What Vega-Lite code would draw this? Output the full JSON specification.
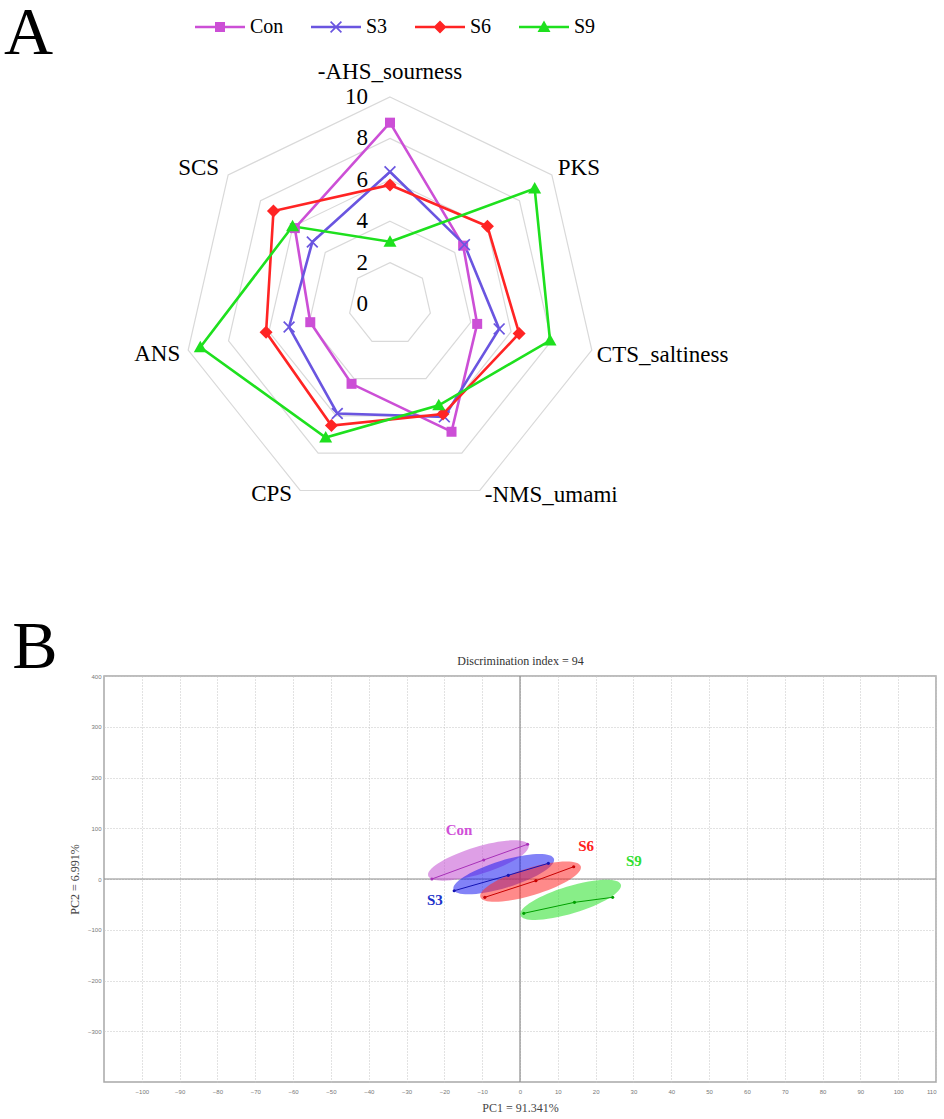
{
"$schema":"https://vega.github.io/schema/vega-lite/v6.json",
"padding":{"left":3,"top":0,"right":0,"bottom":0},
"background":"white",
"bounds":"flush",
"spacing":76,
"config":{"font":"Liberation Serif","view":{"stroke":null}},
"resolve":{"scale":{"color":"independent","shape":"independent","x":"independent","y":"independent","fill":"independent","stroke":"independent"}},
"datasets":{
"radar":[
{"sample":"Con","attr":"-AHS_sourness","idx":0,"value":8.76},
{"sample":"Con","attr":"PKS","idx":1,"value":4.52},
{"sample":"Con","attr":"CTS_saltiness","idx":2,"value":4.32},
{"sample":"Con","attr":"-NMS_umami","idx":3,"value":6.85},
{"sample":"Con","attr":"CPS","idx":4,"value":4.28},
{"sample":"Con","attr":"ANS","idx":5,"value":3.95},
{"sample":"Con","attr":"SCS","idx":6,"value":5.88},
{"sample":"S3","attr":"-AHS_sourness","idx":0,"value":6.39},
{"sample":"S3","attr":"PKS","idx":1,"value":4.60},
{"sample":"S3","attr":"CTS_saltiness","idx":2,"value":5.41},
{"sample":"S3","attr":"-NMS_umami","idx":3,"value":6.05},
{"sample":"S3","attr":"CPS","idx":4,"value":5.87},
{"sample":"S3","attr":"ANS","idx":5,"value":5.00},
{"sample":"S3","attr":"SCS","idx":6,"value":4.80},
{"sample":"S6","attr":"-AHS_sourness","idx":0,"value":5.75},
{"sample":"S6","attr":"PKS","idx":1,"value":6.02},
{"sample":"S6","attr":"CTS_saltiness","idx":2,"value":6.40},
{"sample":"S6","attr":"-NMS_umami","idx":3,"value":5.90},
{"sample":"S6","attr":"CPS","idx":4,"value":6.52},
{"sample":"S6","attr":"ANS","idx":5,"value":6.14},
{"sample":"S6","attr":"SCS","idx":6,"value":7.20},
{"sample":"S9","attr":"-AHS_sourness","idx":0,"value":3.01},
{"sample":"S9","attr":"PKS","idx":1,"value":8.94},
{"sample":"S9","attr":"CTS_saltiness","idx":2,"value":7.93},
{"sample":"S9","attr":"-NMS_umami","idx":3,"value":5.43},
{"sample":"S9","attr":"CPS","idx":4,"value":7.16},
{"sample":"S9","attr":"ANS","idx":5,"value":9.40},
{"sample":"S9","attr":"SCS","idx":6,"value":6.02}
],
"attributes":[
{"attr":"-AHS_sourness","idx":0},{"attr":"PKS","idx":1},{"attr":"CTS_saltiness","idx":2},{"attr":"-NMS_umami","idx":3},{"attr":"CPS","idx":4},{"attr":"ANS","idx":5},{"attr":"SCS","idx":6}
],
"rings":[
{"level":2,"idx":[0,1,2,3,4,5,6]},{"level":4,"idx":[0,1,2,3,4,5,6]},{"level":6,"idx":[0,1,2,3,4,5,6]},{"level":8,"idx":[0,1,2,3,4,5,6]},{"level":10,"idx":[0,1,2,3,4,5,6]}
],
"ticks":[{"level":0},{"level":2},{"level":4},{"level":6},{"level":8},{"level":10}],
"ellipses":[
{"group":"Con","pc1":-11.0,"pc2":36.5},
{"group":"S3","pc1":-4.3,"pc2":9.5},
{"group":"S6","pc1":2.8,"pc2":-5.3},
{"group":"S9","pc1":13.4,"pc2":-41.0}
],
"samples":[
{"group":"Con","ord":1,"pc1":-23.3,"pc2":0.0},
{"group":"Con","ord":2,"pc1":-9.6,"pc2":37.4},
{"group":"Con","ord":3,"pc1":2.0,"pc2":68.4},
{"group":"S3","ord":1,"pc1":-17.4,"pc2":-23.1},
{"group":"S3","ord":2,"pc1":-3.1,"pc2":7.3},
{"group":"S3","ord":3,"pc1":7.5,"pc2":30.9},
{"group":"S6","ord":1,"pc1":-9.3,"pc2":-36.1},
{"group":"S6","ord":2,"pc1":4.2,"pc2":-3.3},
{"group":"S6","ord":3,"pc1":14.2,"pc2":24.2},
{"group":"S9","ord":1,"pc1":1.0,"pc2":-67.6},
{"group":"S9","ord":2,"pc1":14.4,"pc2":-46.0},
{"group":"S9","ord":3,"pc1":24.5,"pc2":-36.1}
],
"grouplabels":[
{"group":"Con","pc1":-16.1,"pc2":96.6},
{"group":"S3","pc1":-22.5,"pc2":-41.4},
{"group":"S6","pc1":17.5,"pc2":65.0},
{"group":"S9","pc1":30.1,"pc2":35.5}
]
},
"vconcat":[
{
"width":832,"height":600,
"title":{"text":"A","orient":"left","anchor":"end","angle":0,"fontSize":68,"fontWeight":"normal","font":"Liberation Serif","color":"black","offset":51,"baseline":"top","align":"left"},
"resolve":{"scale":{"shape":"independent"},"legend":{"color":"independent","shape":"independent"}},
"layer":[
{"data":{"name":"rings"},
 "transform":[{"flatten":["idx"]},{"calculate":"datum.level*sin(datum.idx*2*PI/7)","as":"rx"},{"calculate":"datum.level*cos(datum.idx*2*PI/7)","as":"ry"}],
 "mark":{"type":"line","interpolate":"linear-closed","color":"#d9d9d9","strokeWidth":1.2},
 "encoding":{
  "x":{"field":"rx","type":"quantitative","scale":{"domain":[-13.816,26.377],"nice":false,"zero":false},"axis":null},
  "y":{"field":"ry","type":"quantitative","scale":{"domain":[-14.3,14.686],"nice":false,"zero":false},"axis":null},
  "detail":{"field":"level","type":"nominal"},
  "order":{"field":"idx","type":"quantitative"}}},
{"data":{"name":"ticks"},
 "mark":{"type":"text","align":"right","baseline":"middle","dx":-22,"fontSize":23,"color":"black"},
 "encoding":{
  "x":{"datum":0,"type":"quantitative","axis":null},
  "y":{"field":"level","type":"quantitative","axis":null},
  "text":{"field":"level","type":"quantitative"}}},
{"data":{"name":"attributes"},
 "transform":[{"filter":"datum.idx==0"},{"calculate":"10*sin(datum.idx*2*PI/7)","as":"rx"},{"calculate":"10*cos(datum.idx*2*PI/7)","as":"ry"}],
 "mark":{"type":"text","align":"center","baseline":"middle","dy":-25,"fontSize":23,"color":"black"},
 "encoding":{"x":{"field":"rx","type":"quantitative","axis":null},"y":{"field":"ry","type":"quantitative","axis":null},"text":{"field":"attr"}}},
{"data":{"name":"attributes"},
 "transform":[{"filter":"datum.idx==1"},{"calculate":"10*sin(datum.idx*2*PI/7)","as":"rx"},{"calculate":"10*cos(datum.idx*2*PI/7)","as":"ry"}],
 "mark":{"type":"text","align":"left","baseline":"middle","dx":6,"dy":-7,"fontSize":23,"color":"black"},
 "encoding":{"x":{"field":"rx","type":"quantitative","axis":null},"y":{"field":"ry","type":"quantitative","axis":null},"text":{"field":"attr"}}},
{"data":{"name":"attributes"},
 "transform":[{"filter":"datum.idx==2 || datum.idx==3"},{"calculate":"10*sin(datum.idx*2*PI/7)","as":"rx"},{"calculate":"10*cos(datum.idx*2*PI/7)","as":"ry"}],
 "mark":{"type":"text","align":"left","baseline":"middle","dx":5,"dy":5,"fontSize":23,"color":"black"},
 "encoding":{"x":{"field":"rx","type":"quantitative","axis":null},"y":{"field":"ry","type":"quantitative","axis":null},"text":{"field":"attr"}}},
{"data":{"name":"attributes"},
 "transform":[{"filter":"datum.idx==4 || datum.idx==5"},{"calculate":"10*sin(datum.idx*2*PI/7)","as":"rx"},{"calculate":"10*cos(datum.idx*2*PI/7)","as":"ry"}],
 "mark":{"type":"text","align":"right","baseline":"middle","dx":-8,"dy":4,"fontSize":23,"color":"black"},
 "encoding":{"x":{"field":"rx","type":"quantitative","axis":null},"y":{"field":"ry","type":"quantitative","axis":null},"text":{"field":"attr"}}},
{"data":{"name":"attributes"},
 "transform":[{"filter":"datum.idx==6"},{"calculate":"10*sin(datum.idx*2*PI/7)","as":"rx"},{"calculate":"10*cos(datum.idx*2*PI/7)","as":"ry"}],
 "mark":{"type":"text","align":"right","baseline":"middle","dx":-9,"dy":-7,"fontSize":23,"color":"black"},
 "encoding":{"x":{"field":"rx","type":"quantitative","axis":null},"y":{"field":"ry","type":"quantitative","axis":null},"text":{"field":"attr"}}},
{"data":{"name":"radar"},
 "transform":[{"calculate":"datum.value*sin(datum.idx*2*PI/7)","as":"rx"},{"calculate":"datum.value*cos(datum.idx*2*PI/7)","as":"ry"}],
 "mark":{"type":"line","interpolate":"linear-closed","strokeWidth":2.6},
 "encoding":{
  "x":{"field":"rx","type":"quantitative","axis":null},
  "y":{"field":"ry","type":"quantitative","axis":null},
  "color":{"field":"sample","type":"nominal","scale":{"domain":["Con","S3","S6","S9"],"range":["#cc4fd6","#6a55e0","#ff2424","#1ee01e"]},"legend":null},
  "order":{"field":"idx","type":"quantitative"}}},
{"data":{"name":"radar"},
 "transform":[{"calculate":"datum.value*sin(datum.idx*2*PI/7)","as":"rx"},{"calculate":"datum.value*cos(datum.idx*2*PI/7)","as":"ry"}],
 "mark":{"type":"point","filled":true,"size":2500,"opacity":1,"strokeWidth":0},
 "encoding":{
  "x":{"field":"rx","type":"quantitative","axis":null},
  "y":{"field":"ry","type":"quantitative","axis":null},
  "shape":{"field":"sample","type":"nominal","scale":{"domain":["Con","S3","S6","S9"],"range":[
    "M-0.2,-0.2H0.2V0.2H-0.2Z",
    "M-0.24,-0.192L-0.192,-0.24L0,-0.048L0.192,-0.24L0.24,-0.192L0.048,0L0.24,0.192L0.192,0.24L0,0.048L-0.192,0.24L-0.24,0.192L-0.048,0Z",
    "M0,-0.26L0.26,0L0,0.26L-0.26,0Z",
    "M0,-0.26L0.26,0.2L-0.26,0.2Z"]},"legend":null},
  "color":{"field":"sample","type":"nominal","legend":null}}},
{"data":{"name":"radar"},
 "transform":[{"filter":"false"},{"calculate":"datum.value*sin(datum.idx*2*PI/7)","as":"rx"},{"calculate":"datum.value*cos(datum.idx*2*PI/7)","as":"ry"}],
 "mark":{"type":"point","filled":true,"size":2500,"opacity":1,"strokeWidth":0},
 "encoding":{
  "x":{"field":"rx","type":"quantitative","axis":null},
  "y":{"field":"ry","type":"quantitative","axis":null},
  "shape":{"field":"sample","type":"nominal","scale":{"domain":["Con","S3","S6","S9"],"range":[
    "M-1,-0.052H1V0.052H-1ZM-0.2,-0.2H0.2V0.2H-0.2Z",
    "M-1,-0.052H1V0.052H-1ZM-0.24,-0.192L-0.192,-0.24L0,-0.048L0.192,-0.24L0.24,-0.192L0.048,0L0.24,0.192L0.192,0.24L0,0.048L-0.192,0.24L-0.24,0.192L-0.048,0Z",
    "M-1,-0.052H1V0.052H-1ZM0,-0.26L0.26,0L0,0.26L-0.26,0Z",
    "M-1,-0.052H1V0.052H-1ZM0,-0.26L0.26,0.2L-0.26,0.2Z"]},
   "legend":{"orient":"none","legendX":91,"legendY":2,"direction":"horizontal","title":null,"labelFont":"Liberation Serif","labelFontSize":20,"labelColor":"black","labelOffset":5,"columnPadding":27,"symbolSize":2500,"symbolStrokeWidth":0,"padding":0}},
  "color":{"field":"sample","type":"nominal",
   "legend":{"orient":"none","legendX":91,"legendY":2,"direction":"horizontal","title":null,"labelFont":"Liberation Serif","labelFontSize":20,"labelColor":"black","labelOffset":5,"columnPadding":27,"symbolSize":2500,"symbolStrokeWidth":0,"padding":0}}}}
]
},
{
"width":832,"height":406,
"view":{"stroke":"#a8a8a8","strokeWidth":1.5},
"title":{"text":"B","orient":"left","anchor":"end","angle":0,"fontSize":68,"fontWeight":"normal","font":"Liberation Serif","color":"black","offset":11,"baseline":"top","align":"left","dy":-40},
"resolve":{"scale":{"color":"independent","fill":"independent","stroke":"independent"},"axis":{"x":"independent"}},
"layer":[
{"data":{"values":[{"v":0}]},
 "mark":{"type":"rule","color":"#8c8c8c","strokeWidth":1.2},
 "encoding":{"x":{"field":"v","type":"quantitative","scale":{"domain":[-110,110],"nice":false,"zero":false},
   "axis":{"orient":"top","title":"Discrimination index = 94","labels":false,"ticks":false,"domain":false,"grid":false,"titleFont":"Liberation Sans Narrow","titleFontSize":12,"titleFontWeight":"normal","titleColor":"#333333","titlePadding":9}}}},
{"data":{"values":[{"v":0}]},
 "mark":{"type":"rule","color":"#8c8c8c","strokeWidth":1.2},
 "encoding":{"y":{"field":"v","type":"quantitative","title":"PC2 = 6.991%","scale":{"domain":[-400,400],"nice":false,"zero":false}}}},
{"data":{"name":"ellipses"},
 "mark":{"type":"point","filled":true,"shape":"M-1,0C-1,-0.144,-0.5523,-0.26,0,-0.26C0.5523,-0.26,1,-0.144,1,0C1,0.144,0.5523,0.26,0,0.26C-0.5523,0.26,-1,0.144,-1,0Z","size":11025,"angle":-17,"fillOpacity":0.55,"strokeWidth":0},
 "encoding":{
  "x":{"field":"pc1","type":"quantitative","axis":{"orient":"bottom","values":[-100,-90,-80,-70,-60,-50,-40,-30,-20,-10,0,10,20,30,40,50,60,70,80,90,100,110],"title":"PC1 = 91.341%","grid":true,"gridDash":[1,2],"gridColor":"#c4c4c4","ticks":false,"domain":false,"labelFont":"Liberation Sans","labelFontSize":6,"labelColor":"#777777","labelPadding":6,"titleFont":"Liberation Sans Narrow","titleFontSize":12,"titleFontWeight":"normal","titleColor":"#444444","titlePadding":8}},
  "y":{"field":"pc2","type":"quantitative","title":"PC2 = 6.991%","axis":{"values":[400,300,200,100,0,-100,-200,-300],"title":"PC2 = 6.991%","grid":true,"gridDash":[1,2],"gridColor":"#c4c4c4","ticks":false,"domain":false,"labelFont":"Liberation Sans","labelFontSize":6,"labelColor":"#777777","labelPadding":3,"titleFont":"Liberation Sans Narrow","titleFontSize":12,"titleFontWeight":"normal","titleColor":"#444444","titlePadding":6}},
  "fill":{"field":"group","type":"nominal","scale":{"domain":["Con","S3","S6","S9"],"range":["#c350d2","#1c1cf0","#ff2a2a","#26e026"]},"legend":null}}},
{"data":{"name":"samples"},
 "mark":{"type":"line","strokeWidth":1},
 "encoding":{
  "x":{"field":"pc1","type":"quantitative","axis":null},
  "y":{"field":"pc2","type":"quantitative","title":"PC2 = 6.991%"},
  "stroke":{"field":"group","type":"nominal","scale":{"domain":["Con","S3","S6","S9"],"range":["#a830b8","#1414b4","#c80000","#00a000"]},"legend":null},
  "order":{"field":"ord","type":"quantitative"}}},
{"data":{"name":"samples"},
 "mark":{"type":"point","filled":true,"size":10,"opacity":1},
 "encoding":{
  "x":{"field":"pc1","type":"quantitative","axis":null},
  "y":{"field":"pc2","type":"quantitative","title":"PC2 = 6.991%"},
  "color":{"field":"group","type":"nominal","scale":{"domain":["Con","S3","S6","S9"],"range":["#a830b8","#1414b4","#c80000","#00a000"]},"legend":null}}},
{"data":{"name":"grouplabels"},
 "mark":{"type":"text","fontSize":15,"fontWeight":"bold","font":"Liberation Serif","align":"center","baseline":"middle"},
 "encoding":{
  "x":{"field":"pc1","type":"quantitative","axis":null},
  "y":{"field":"pc2","type":"quantitative","title":"PC2 = 6.991%"},
  "text":{"field":"group"},
  "color":{"field":"group","type":"nominal","scale":{"domain":["Con","S3","S6","S9"],"range":["#d050d8","#2030c8","#ff2020","#30e030"]},"legend":null}}}
]
}
]
}
